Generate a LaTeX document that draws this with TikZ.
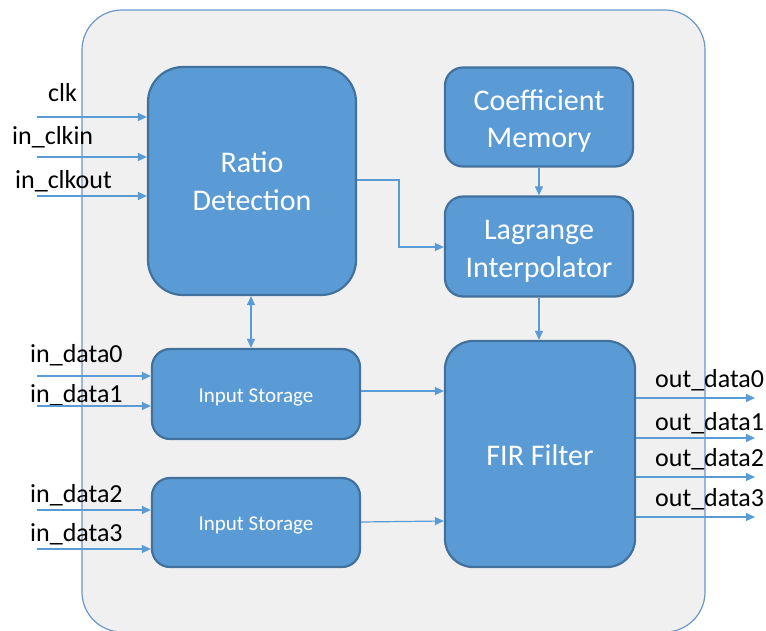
\documentclass[tikz,border=0pt]{standalone}
\usepackage{fontspec}
\setmainfont{Carlito}
\usetikzlibrary{arrows.meta}
\definecolor{blk}{HTML}{5B9BD5}
\definecolor{blkedge}{HTML}{41719C}
\definecolor{outerfill}{HTML}{F0F0F0}
\definecolor{outeredge}{HTML}{6A98CE}
\definecolor{arr}{HTML}{5B9BD5}
\begin{document}
\begin{tikzpicture}[x=1pt,y=-1pt,
  block/.style={draw=blkedge,fill=blk,line width=2.2pt,inner sep=0pt},
  btext/.style={text=white,align=center,inner sep=0pt,font=\fontsize{30}{37.5}\selectfont},
  stext/.style={btext,font=\fontsize{21}{25}\selectfont},
  sig/.style={draw=arr,line width=1.2pt,-{Triangle[length=9pt,width=8pt]}},
  lbl/.style={anchor=base west,inner sep=0pt,font=\fontsize{26}{30}\selectfont,text=black}]
\useasboundingbox (0,0) rectangle (766,631);
\fill[white] (0,0) rectangle (766,631);
\draw[fill=outerfill,draw=outeredge,line width=1.2pt,rounded corners=40pt] (82,10) rectangle (705,632);

\node[block,minimum width=208pt,minimum height=228pt,rounded corners=35pt,
  label={[btext]center:{Ratio\\Detection}}] (ratio) at (252,181) {};
\node[block,minimum width=188pt,minimum height=99pt,rounded corners=18pt,
  label={[btext,yshift=-4pt]center:{Coefficient\\Memory}}] (coef) at (539,117) {};
\node[block,minimum width=188pt,minimum height=100pt,rounded corners=18pt,
  label={[btext,yshift=-5pt]center:{Lagrange\\Interpolator}}] (lag) at (539,246.5) {};
\node[block,minimum width=208pt,minimum height=90pt,rounded corners=18pt,
  label={[stext,yshift=-3pt]center:{Input Storage}}] (in1) at (256,394) {};
\node[block,minimum width=208pt,minimum height=89pt,rounded corners=18pt,
  label={[stext,yshift=-3pt]center:{Input Storage}}] (in2) at (256,522.5) {};
\node[block,minimum width=190pt,minimum height=226pt,rounded corners=28pt,
  label={[btext,yshift=-1pt]center:{FIR Filter}}] (fir) at (540,454) {};

% signal labels
\node[lbl] (lclk) at (48,102) {clk};
\node[lbl] (lclkin) at (12,145) {in\_clkin};
\node[lbl] (lclkout) at (15,189) {in\_clkout};
\node[lbl] (ld0) at (30,362) {in\_data0};
\node[lbl] (ld1) at (30,402) {in\_data1};
\node[lbl] (ld2) at (30,502) {in\_data2};
\node[lbl] (ld3) at (30,541) {in\_data3};
\node[lbl] (lo0) at (655,387) {out\_data0};
\node[lbl] (lo1) at (655,430) {out\_data1};
\node[lbl] (lo2) at (655,466) {out\_data2};
\node[lbl] (lo3) at (655,506) {out\_data3};

\coordinate (cclk) at (37,117);
\coordinate (cclkin) at (37,157);
\coordinate (cclkout) at (37,196);
\coordinate (cd0) at (37,376);
\coordinate (cd1) at (37,406);
\coordinate (cd2) at (37,510);
\coordinate (cd3) at (37,549);
\coordinate (co0) at (755,398);
\coordinate (co1) at (755,438);
\coordinate (co2) at (755,477);
\coordinate (co3) at (755,517);

\draw[sig] (cclk) -- (cclk -| ratio.west);
\draw[sig] (cclkin) -- (cclkin -| ratio.west);
\draw[sig] (cclkout) -- (cclkout -| ratio.west);
\draw[sig] (cd0) -- (cd0 -| in1.west);
\draw[sig] (cd1) -- (cd1 -| in1.west);
\draw[sig] (cd2) -- (cd2 -| in2.west);
\draw[sig] (cd3) -- (cd3 -| in2.west);
\draw[sig] (co0 -| fir.east) -- (co0);
\draw[sig] (co1 -| fir.east) -- (co1);
\draw[sig] (co2 -| fir.east) -- (co2);
\draw[sig] (co3 -| fir.east) -- (co3);

\coordinate (rj) at (399,180);
\draw[sig] (ratio.east |- rj) -- (rj) |- (lag.west |- 0,247);
\draw[sig,{Triangle[length=9pt,width=8pt]}-{Triangle[length=9pt,width=8pt]}] (ratio.south -| 251,0) -- (in1.north -| 251,0);
\draw[sig] (coef.south) -- (lag.north);
\draw[sig] (lag.south) -- (fir.north -| lag.south);
\draw[sig] (in1.east |- 0,391) -- (fir.west |- 0,391);
\draw[sig] (in2.east |- 0,522) -- (fir.west |- 0,521);
\end{tikzpicture}
\end{document}
